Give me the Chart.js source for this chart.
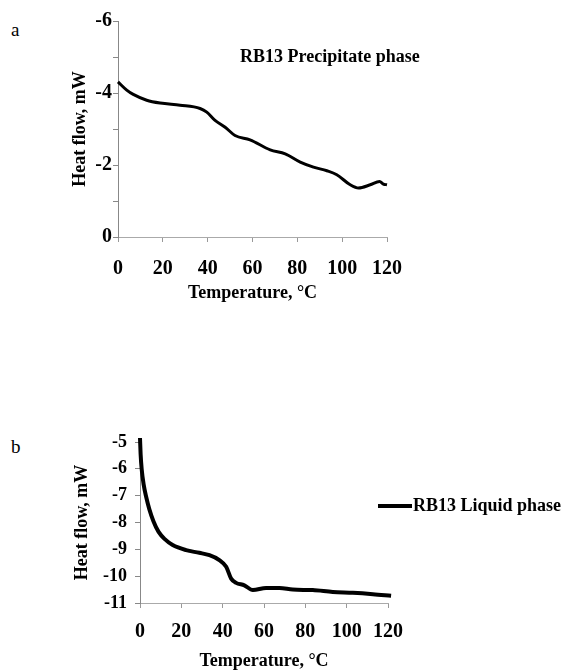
<!DOCTYPE html>
<html>
<head>
<meta charset="utf-8">
<script src="https://cdn.jsdelivr.net/npm/chart.js@4"></script>
<style>
  html, body { margin: 0; padding: 0; background: #fff; }
  body { width: 565px; height: 672px; position: relative; overflow: hidden; font-family: "Liberation Serif", serif; }
  .panel { position: absolute; font-size: 19px; color: #000; }
  #wa { position: absolute; left: 0; top: 0; width: 565px; height: 320px; }
  #wb { position: absolute; left: 0; top: 340px; width: 565px; height: 332px; }
</style>
</head>
<body>
<div class="panel" style="left:11px; top:19px;">a</div>
<div class="panel" style="left:11px; top:436px;">b</div>
<div id="wa"><canvas id="ca"></canvas></div>
<div id="wb"><canvas id="cb"></canvas></div>
<script>
// ---- Data ----
const tempA = [0, 3.9, 6.8, 12.8, 18.8, 27.7, 36.6, 39.6, 43.3, 47.8, 52.2, 58.9, 67.9, 74.6, 81.3, 87.2, 93.2, 97.6, 103.6, 107.3, 112.5, 116.7, 118.4, 120];
const heatA = [-4.31, -4.08, -3.96, -3.80, -3.72, -3.66, -3.57, -3.47, -3.24, -3.05, -2.82, -2.70, -2.42, -2.31, -2.08, -1.94, -1.84, -1.73, -1.45, -1.36, -1.45, -1.54, -1.47, -1.45];
const labelA = "RB13 Precipitate phase";

const tempB = [0, 0.3, 0.8, 1.8, 3.0, 4.5, 6.5, 9.0, 12.0, 15.8, 22.3, 28.7, 33.6, 38.4, 41.7, 44.1, 46.5, 50.5, 54.6, 61, 67.5, 73.9, 83.6, 93.3, 103, 112.7, 121.5];
const heatB = [-4.85, -5.45, -6.0, -6.6, -7.05, -7.5, -7.95, -8.35, -8.62, -8.84, -9.03, -9.13, -9.22, -9.40, -9.65, -10.09, -10.25, -10.34, -10.52, -10.44, -10.44, -10.50, -10.52, -10.59, -10.62, -10.67, -10.73];
const labelB = "RB13 Liquid phase";

const xTitle = "Temperature, \u00B0C";
const yTitle = "Heat flow, mW";

const SERIF = "'Liberation Serif', 'Times New Roman', serif";

const legendPlugin = {
  id: 'freeLegend',
  afterDraw(chart, args, opts) {
    const ctx = chart.ctx;
    const ds = chart.data.datasets[0];
    const ca = chart.chartArea;
    const x = ca.left + opts.dx, y = ca.top + opts.dy;
    ctx.save();
    let tx = x;
    if (opts.line) {
      ctx.strokeStyle = ds.borderColor;
      ctx.lineWidth = ds.borderWidth;
      ctx.beginPath();
      ctx.moveTo(x, y);
      ctx.lineTo(x + opts.line, y);
      ctx.stroke();
      tx = x + opts.line + 1;
    }
    ctx.fillStyle = '#000';
    ctx.font = "bold 18px " + SERIF;
    ctx.textBaseline = 'middle';
    ctx.textAlign = 'left';
    ctx.fillText(ds.label, tx, y);
    ctx.restore();
  }
};

function makeChart(id, temps, heats, label, cfg) {
  return new Chart(document.getElementById(id), {
    type: 'line',
    data: {
      datasets: [{
        label: label,
        data: temps.map((t, i) => ({ x: t, y: heats[i] })),
        borderColor: '#000',
        borderWidth: cfg.lw,
        pointRadius: 0,
        cubicInterpolationMode: 'monotone',
        fill: false,
        clip: false
      }]
    },
    options: {
      responsive: true,
      maintainAspectRatio: false,
      animation: false,
      layout: { padding: cfg.pad },
      plugins: {
        legend: { display: false },
        tooltip: { enabled: false },
        freeLegend: cfg.legend
      },
      scales: {
        x: {
          type: 'linear',
          min: 0, max: 120,
          afterFit(s) { s.height = cfg.xh; },
          ticks: { stepSize: 20, color: '#000', padding: cfg.xtp, font: { family: SERIF, size: 20, weight: 'bold' } },
          grid: { drawOnChartArea: false, drawTicks: true, tickLength: 5, color: '#999' },
          border: { color: '#aaa', dash: [3, 2], width: 1 },
          title: { display: true, text: xTitle, color: '#000', padding: { top: 0, bottom: cfg.xtb }, font: { family: SERIF, size: 18, weight: 'bold' } }
        },
        y: {
          min: cfg.ymin, max: cfg.ymax,
          reverse: cfg.reverse,
          afterFit(s) { s.width = cfg.yw; },
          ticks: {
            stepSize: 1, color: '#000', padding: cfg.ytp,
            font: { family: SERIF, size: cfg.yfs, weight: 'bold' },
            callback: cfg.ycb
          },
          grid: { drawOnChartArea: false, drawTicks: true, tickLength: 5, color: '#888' },
          border: { color: '#888', width: 1 },
          title: { display: true, text: yTitle, color: '#000', padding: { top: 5, bottom: 0 }, font: { family: SERIF, size: 18, weight: 'bold' } }
        }
      }
    },
    plugins: [legendPlugin]
  });
}

makeChart('ca', tempA, heatA, labelA, {
  lw: 3, pad: { left: 65, right: 178, top: 21, bottom: 0 },
  xh: 83, xtp: 15, xtb: 16, yw: 53, ytp: 1, yfs: 20,
  ymin: -6, ymax: 0, reverse: true,
  ycb: (v) => (Math.round(v) % 2 === 0 ? String(v) : ''),
  legend: { dx: 122, dy: 36, line: 0 }
});

makeChart('cb', tempB, heatB, labelB, {
  lw: 4, pad: { left: 67, right: 177, top: 102, bottom: 0 },
  xh: 69, xtp: 12, xtb: 0, yw: 73, ytp: 8, yfs: 18,
  ymin: -11, ymax: -5, reverse: false,
  ycb: (v) => String(v),
  legend: { dx: 238, dy: 64, line: 34 }
});
</script>
</body>
</html>
